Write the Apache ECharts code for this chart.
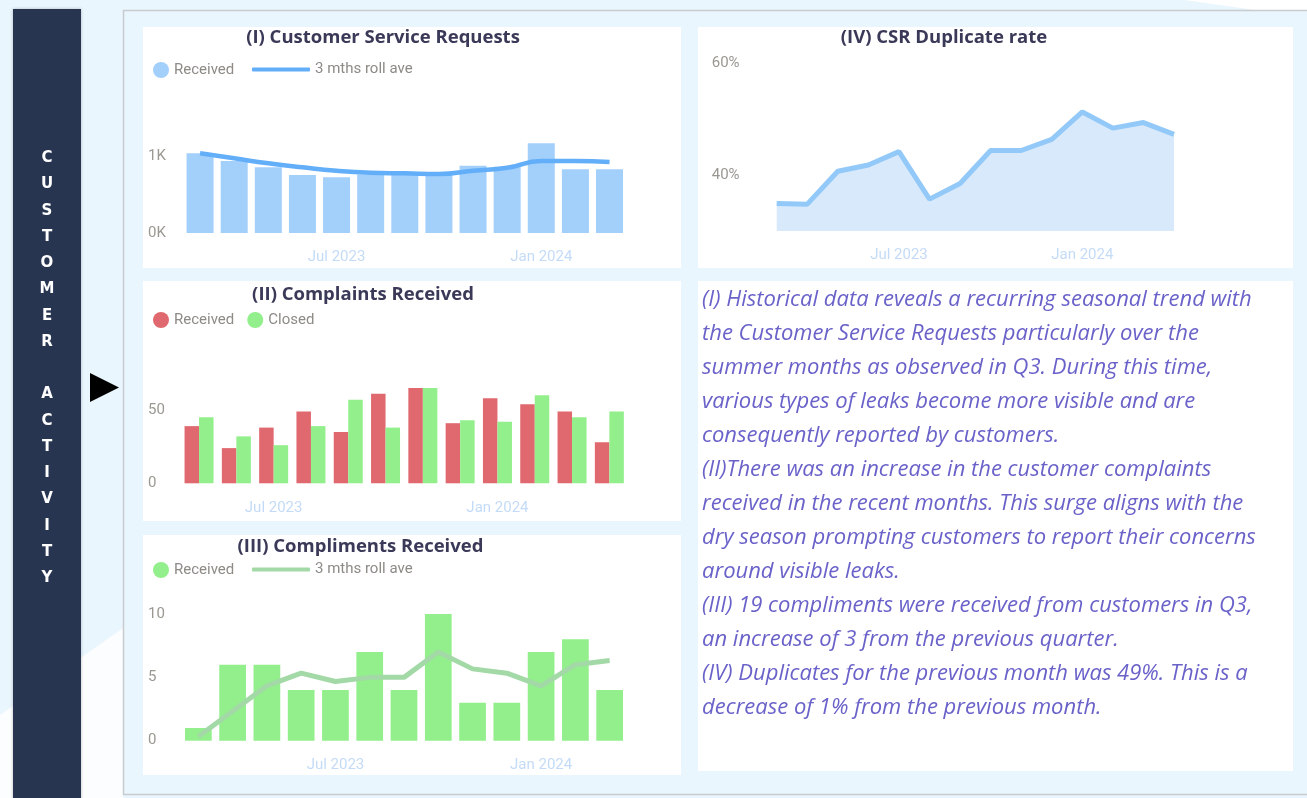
<!DOCTYPE html>
<html><head><meta charset="utf-8">
<script src="https://cdn.jsdelivr.net/npm/echarts@6/dist/echarts.min.js"></script>
<style>html,body{margin:0;padding:0;background:#eaf6fd;overflow:hidden}#c{width:1307px;height:798px}</style>
</head><body><div id="c"></div><script>
// ---- data ----
const monthsA = ['Mar 2023','Apr 2023','May 2023','Jun 2023','Jul 2023','Aug 2023','Sep 2023','Oct 2023','Nov 2023','Dec 2023','Jan 2024','Feb 2024','Mar 2024'];
const monthsB = ['May 2023','Jun 2023','Jul 2023','Aug 2023','Sep 2023','Oct 2023','Nov 2023','Dec 2023','Jan 2024','Feb 2024','Mar 2024','Apr 2024'];
const monthsD = ['Mar 2023','Apr 2023','May 2023','Jun 2023','Jul 2023','Aug 2023','Sep 2023','Oct 2023','Nov 2023','Dec 2023','Jan 2024','Feb 2024','Mar 2024','Apr 2024'];
const xTickLabels = ['Jul 2023','Jan 2024'];
const csrReceived = [1035, 935, 853, 753, 723, 760, 765, 775, 874, 861, 1165, 827, 827];
const csrRollAve = [1035, 970, 905, 853, 809, 783, 775, 766, 809, 848, 935, 935, 922];
const complaintsReceived = [39, 24, 38, 49, 35, 61, 65, 41, 58, 54, 49, 28];
const complaintsClosed = [45, 32, 26, 39, 57, 38, 65, 43, 42, 60, 45, 49];
const complimentsReceived = [1, 6, 6, 4, 4, 7, 4, 10, 3, 3, 7, 8, 4];
const complimentsRollAve = [0.33, 2.33, 4.33, 5.33, 4.67, 5, 5, 7, 5.67, 5.33, 4.33, 6, 6.33];
const duplicateRate = [34.9, 34.8, 40.7, 41.8, 44.2, 35.7, 38.5, 44.4, 44.4, 46.4, 51.3, 48.4, 49.4, 47.3];
const csrTicks = [0, 1000];
const complaintTicks = [0, 50];
const complimentTicks = [0, 5, 10];
const dupTicks = [40, 60];
const titles = ['(I) Customer Service Requests', '(II) Complaints Received', '(III) Compliments Received', '(IV) CSR Duplicate rate'];
const sideLabel = 'CUSTOMER ACTIVITY';
const commentary = [
 '(I) Historical data reveals a recurring seasonal trend with',
 'the Customer Service Requests particularly over the',
 'summer months as observed in Q3. During this time,',
 'various types of leaks become more visible and are',
 'consequently reported by customers.',
 '(II)There was an increase in the customer complaints',
 'received in the recent months. This surge aligns with the',
 'dry season prompting customers to report their concerns',
 'around visible leaks.',
 '(III) 19 compliments were received from customers in Q3,',
 'an increase of 3 from the previous quarter.',
 '(IV) Duplicates for the previous month was 49%. This is a',
 'decrease of 1% from the previous month.'
];

// ---- styling ----
const AXF = 'Roboto, sans-serif';
const xLabelColor = '#c4dbf7';
const yLabelColor = '#9b9791';
const legendColor = '#8e8a86';

function xAxis(idx, data, margin, gap) {
  return { type:'category', gridIndex: idx, data: data, boundaryGap: gap,
    axisLine:{show:false}, axisTick:{show:false}, splitLine:{show:false},
    axisLabel:{ interval:(i, v) => xTickLabels.includes(v), color:xLabelColor, fontSize:15, fontFamily:AXF, margin: margin } };
}
function yAxis(idx, min, max, interval, ticks, fmt, margin) {
  return { type:'value', gridIndex: idx, min:min, max:max, interval:interval,
    axisLine:{show:false}, axisTick:{show:false}, splitLine:{show:false},
    axisLabel:{ align:'left', margin: margin, color:yLabelColor, fontSize:15, fontFamily:AXF,
      formatter: v => ticks.includes(v) ? fmt(v) : '' } };
}
const legendText = { color: legendColor, fontSize: 15, fontFamily: AXF };
const strip = n => n.replace(/ \(.*\)$/, '');

const graphics = [];
// background swooshes
graphics.push({ type:'polygon', shape:{points:[[1185,0],[1307,0],[1307,10],[1255,10]]}, style:{fill:'#ffffff'}, silent:true });
graphics.push({ type:'polygon', shape:{points:[[0,715],[123,628],[123,798],[0,798]]}, style:{fill:'#fbfdff'}, silent:true });
// main container
graphics.push({ type:'rect', shape:{x:123.5, y:10.5, width:1200, height:784}, style:{fill:'#e9f6fd', stroke:'#c9cccf', lineWidth:1.5}, silent:true });
// sidebar
graphics.push({ type:'rect', shape:{x:13, y:9, width:68, height:800}, style:{fill:'#283551', shadowBlur:3, shadowColor:'rgba(0,0,0,0.25)'}, silent:true });
graphics.push({ type:'text', style:{ text: sideLabel.split('').join('\n'), x:47, y:145, textAlign:'center', fill:'#ffffff',
  font:'bold 15px "DejaVu Sans", sans-serif', lineHeight:26.25 }, silent:true });
// arrow
graphics.push({ type:'polygon', shape:{points:[[90,373],[119,387.5],[90,402]]}, style:{fill:'#000000'}, silent:true });
// panels
[[143,27,538,241],[143,281,538,240],[143,535,538,240],[698,27,595,241],[698,281,595,490]].forEach(p => {
  graphics.push({ type:'rect', shape:{x:p[0], y:p[1], width:p[2], height:p[3]}, style:{fill:'#ffffff'}, silent:true });
});
// titles
[[383,37.5],[363,294.5],[360.5,546.5],[944,37.5]].forEach((p, i) => {
  graphics.push({ type:'text', style:{ text:titles[i], x:p[0], y:p[1], textAlign:'center', textVerticalAlign:'middle',
    fill:'#3a3958', font:'bold 18.5px "Open Sans", sans-serif' }, silent:true });
});
// commentary
commentary.forEach((line, i) => {
  graphics.push({ type:'text', style:{ text:line, x:702, y:300 + i*34, textAlign:'left', textVerticalAlign:'middle',
    fill:'#6a62c9', font:'italic 22px "Open Sans", sans-serif' }, silent:true });
});

const option = {
  animation:false,
  backgroundColor:'#eaf6fd',
  graphic: { elements: graphics },
  grid: [
    { left:183, right:680.4, top:117.5, bottom:565 },
    { left:180.4, right:679, top:336.7, bottom:314.7 },
    { left:181.2, right:680.2, top:588.7, bottom:57.3 },
    { left:776.7, right:133, top:63.3, bottom:567 }
  ],
  xAxis: [ xAxis(0, monthsA, 17, true), xAxis(1, monthsB, 17, true), xAxis(2, monthsA, 17, true), xAxis(3, monthsD, 17, false) ],
  yAxis: [
    yAxis(0, 0, 1500, 500, csrTicks, v => (v/1000) + 'K', 35),
    yAxis(1, 0, 100, 50, complaintTicks, v => String(v), 32.4),
    yAxis(2, 0, 12, 5, complimentTicks, v => String(v), 33.2),
    yAxis(3, 30, 60, 10, dupTicks, v => v + '%', 65)
  ],
  legend: [
    { data:['Received (I)'], left:148, top:57, icon:'circle', itemWidth:16, itemHeight:16, itemGap:5, textStyle:legendText, formatter:strip },
    { data:['3 mths roll ave (I)'], left:247, top:57, icon:'roundRect', itemWidth:58, itemHeight:4, textStyle:legendText, formatter:strip },
    { data:['Received (II)','Closed (II)'], left:148, top:307, icon:'circle', itemWidth:16, itemHeight:16, itemGap:13, textStyle:legendText, formatter:strip },
    { data:['Received (III)'], left:148, top:557, icon:'circle', itemWidth:16, itemHeight:16, textStyle:legendText, formatter:strip },
    { data:['3 mths roll ave (III)'], left:247, top:557, icon:'roundRect', itemWidth:58, itemHeight:4, textStyle:legendText, formatter:strip }
  ],
  series: [
    { name:'Received (I)', type:'bar', xAxisIndex:0, yAxisIndex:0, data:csrReceived, barWidth:27, itemStyle:{color:'#a3cffb'} },
    { name:'3 mths roll ave (I)', type:'line', xAxisIndex:0, yAxisIndex:0, data:csrRollAve, smooth:true, symbol:'none', lineStyle:{color:'#62aef8', width:4.5}, itemStyle:{color:'#62aef8'} },
    { name:'Received (II)', type:'bar', xAxisIndex:1, yAxisIndex:1, data:complaintsReceived, barWidth:14.5, barGap:'0%', itemStyle:{color:'#e0686f'} },
    { name:'Closed (II)', type:'bar', xAxisIndex:1, yAxisIndex:1, data:complaintsClosed, barWidth:14.5, barGap:'0%', itemStyle:{color:'#92ef8b'} },
    { name:'Received (III)', type:'bar', xAxisIndex:2, yAxisIndex:2, data:complimentsReceived, barWidth:26.7, itemStyle:{color:'#92ef8b'} },
    { name:'3 mths roll ave (III)', type:'line', xAxisIndex:2, yAxisIndex:2, data:complimentsRollAve, symbol:'none', lineStyle:{color:'#a3d9a6', width:5}, itemStyle:{color:'#a3d9a6'} },
    { name:'Duplicate rate', type:'line', xAxisIndex:3, yAxisIndex:3, data:duplicateRate, symbol:'none', lineStyle:{color:'#92c9f8', width:5}, areaStyle:{color:'#d8e9fb', opacity:1} }
  ]
};
const chart = echarts.init(document.getElementById('c'), null, {renderer:'canvas', width:1307, height:798});
chart.setOption(option);
</script></body></html>
